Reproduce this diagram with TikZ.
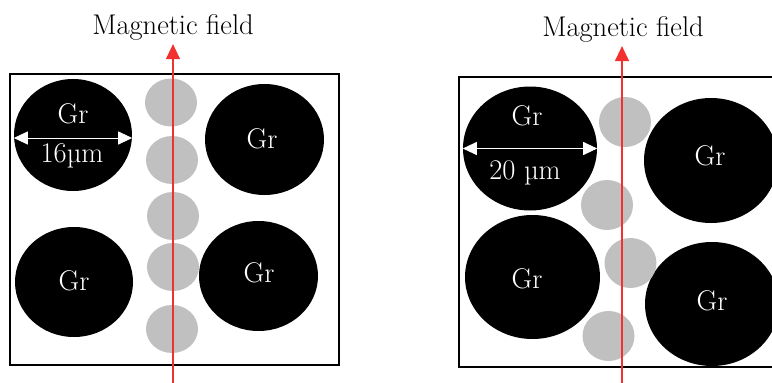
\documentclass[tikz,border=0pt]{standalone}
\usetikzlibrary{shapes.geometric,arrows.meta}
\definecolor{fieldred}{HTML}{F23030}
\definecolor{poregray}{HTML}{C0C0C0}
\begin{document}
\begin{tikzpicture}[x=1pt,y=-1pt]
	\tikzstyle{grain} = [ ellipse, fill=black, inner sep=0pt ];
	\tikzstyle{pore} = [ ellipse, fill=poregray, inner sep=0pt, minimum width=52pt ];
	\tikzstyle{cell} = [ draw, line width=2.4pt ];
	\tikzstyle{lbl} = [ text=white, inner sep=0pt, font={\fontsize{28.5}{32}\selectfont} ];
	\tikzstyle{title} = [ inner sep=4pt, font={\fontsize{28.5}{32}\selectfont} ];
	\tikzstyle{field} = [ -{Triangle[length=15pt,width=14pt]}, fieldred, line width=1.4pt ];
	\tikzstyle{size} = [ {Triangle[length=14pt,width=13pt]}-{Triangle[length=14pt,width=13pt]}, white, line width=1pt ];

	\clip (0,0) rectangle (772,383);

	% left cell
	\draw[cell] (10,74) rectangle (339,365);

	\node[grain, minimum width=118pt, minimum height=112pt] (gA) at (73,135) {};
	\node[grain, minimum width=119pt, minimum height=111pt] (gB) at (264.5,139.5) {};
	\node[grain, minimum width=118pt, minimum height=110pt] (gC) at (74,282) {};
	\node[grain, minimum width=119pt, minimum height=110pt] (gD) at (258.5,276) {};

	\foreach \x/\y [count=\i] in {171/102.5, 172/160, 173/216, 173/267, 172/329}
		\node[pore, minimum height=48pt] (p\i) at (\x,\y) {};

	\node[lbl] (gAt) at (73,114) {Gr};
	\node[lbl] (gAd) at (72,156) {16µm};
	\node[lbl] (gBt) at (262,139) {Gr};
	\node[lbl] (gCt) at (74,281) {Gr};
	\node[lbl] (gDt) at (259,273) {Gr};
	\draw[size] ([yshift=-3pt]gA.west) -- ([yshift=-3pt]gA.east);

	\node[title] (mA) at (173,27) {Magnetic field};
	\coordinate (fA) at (173,383);
	\draw[field] (fA) -- (mA.south);

	% right cell
	\draw[cell] (459,77) rectangle (790,367);

	\node[grain, minimum width=134pt, minimum height=124pt] (hA) at (530,148.5) {};
	\node[grain, minimum width=134pt, minimum height=125pt] (hB) at (711,160.5) {};
	\node[grain, minimum width=135pt, minimum height=124pt] (hC) at (532.5,277) {};
	\node[grain, minimum width=134pt, minimum height=124pt] (hD) at (712,304) {};

	\foreach \x/\y [count=\i] in {625/122, 607/205, 630.5/263, 608.5/336}
		\node[pore, minimum height=50pt] (q\i) at (\x,\y) {};

	\node[lbl] (hAt) at (527,116) {Gr};
	\node[lbl] (hAd) at (525,173) {20 µm};
	\node[lbl] (hBt) at (710,156) {Gr};
	\node[lbl] (hCt) at (527,279) {Gr};
	\node[lbl] (hDt) at (712,301) {Gr};
	\draw[size] (hA.west) -- (hA.east);

	\node[title] (mB) at (623,29) {Magnetic field};
	\coordinate (fB) at (622,383);
	\draw[field] (fB) -- (mB.south -| fB);
\end{tikzpicture}
\end{document}
